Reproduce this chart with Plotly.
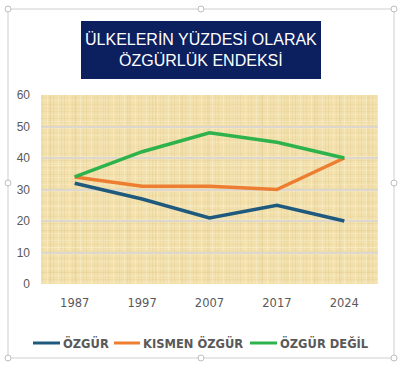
import base64
import plotly.graph_objects as go

# Data
years = ["1987", "1997", "2007", "2017", "2024"]
ozgur = [32, 27, 21, 25, 20]
kismen_ozgur = [34, 31, 31, 30, 40]
ozgur_degil = [34, 42, 48, 45, 40]

series_names = ["ÖZGÜR", "KISMEN ÖZGÜR", "ÖZGÜR DEĞİL"]
series_colors = ["#1f5a7e", "#ed7d31", "#2db24c"]
y_ticks = [0, 10, 20, 30, 40, 50, 60]

W, H = 405, 368
L, R, T, B = 41, 378, 95, 284  # plot area edges in pixels


def px_x(p):
    return (p - L) / (R - L)


def px_y(p):
    return (B - p) / (B - T)


# Papyrus-like woven texture for the plot background (tiled SVG pattern)
svg = f"""<svg xmlns='http://www.w3.org/2000/svg' width='{R-L}' height='{B-T}'>
<defs>
<pattern id='w' width='11' height='7' patternUnits='userSpaceOnUse'>
<rect width='11' height='7' fill='#f3e1ad'/>
<rect x='1' width='1' height='7' fill='#e2c88b' opacity='0.35'/>
<rect x='6' width='1' height='7' fill='#faeecb' opacity='0.6'/>
<rect x='9' width='1' height='7' fill='#dcc283' opacity='0.22'/>
<rect y='2' width='11' height='1' fill='#e3ca8e' opacity='0.28'/>
<rect y='5' width='11' height='1' fill='#f8eac3' opacity='0.5'/>
</pattern>
<pattern id='v' width='53' height='189' patternUnits='userSpaceOnUse'>
<rect x='8' width='2' height='189' fill='#cdb072' opacity='0.12'/>
<rect x='33' width='3' height='189' fill='#cdb072' opacity='0.09'/>
</pattern>
<pattern id='h' width='337' height='41' patternUnits='userSpaceOnUse'>
<rect y='12' width='337' height='2' fill='#cdb072' opacity='0.08'/>
<rect y='29' width='337' height='1' fill='#fbf0cf' opacity='0.35'/>
</pattern>
</defs>
<rect width='100%' height='100%' fill='url(#w)'/>
<rect width='100%' height='100%' fill='url(#v)'/>
<rect width='100%' height='100%' fill='url(#h)'/>
</svg>"""
texture = "data:image/svg+xml;base64," + base64.b64encode(svg.encode()).decode()

fig = go.Figure()
for name, vals, col in zip(series_names, [ozgur, kismen_ozgur, ozgur_degil], series_colors):
    fig.add_trace(go.Scatter(
        x=years, y=vals, name=name, mode="lines",
        line=dict(color=col, width=3.5),
        hoverinfo="x+y+name",
    ))

shapes = []
annotations = []

# Outer frame with selection handles
shapes.append(dict(type="rect", xref="paper", yref="paper",
                   x0=px_x(8), x1=px_x(394), y0=px_y(358), y1=px_y(9),
                   line=dict(color="#cfcfcf", width=1), fillcolor="rgba(0,0,0,0)", layer="below"))
for xx in [8, 201, 394]:
    for yy in [9, 183, 358]:
        if xx == 201 and yy == 183:
            continue
        shapes.append(dict(type="circle", xref="paper", yref="paper",
                           x0=px_x(xx - 3), x1=px_x(xx + 3), y0=px_y(yy + 3), y1=px_y(yy - 3),
                           line=dict(color="#bdbdbd", width=1), fillcolor="white"))

# Title box
shapes.append(dict(type="rect", xref="paper", yref="paper",
                   x0=px_x(81), x1=px_x(321), y0=px_y(79), y1=px_y(21),
                   line=dict(width=0), fillcolor="#0c1f5e"))
annotations.append(dict(text="ÜLKELERİN YÜZDESİ OLARAK<br>ÖZGÜRLÜK ENDEKSİ",
                        xref="paper", yref="paper", x=px_x(201), y=px_y(50),
                        xanchor="center", yanchor="middle", showarrow=False,
                        font=dict(family="Liberation Sans", size=16, color="white")))

# Legend row: short line sample followed by a bold label
legend_y = px_y(343)
legend_lines = [(33, 60), (114, 140), (250, 277)]
for name, col, (lx0, lx1) in zip(series_names, series_colors, legend_lines):
    shapes.append(dict(type="line", xref="paper", yref="paper",
                       x0=px_x(lx0), x1=px_x(lx1), y0=legend_y, y1=legend_y,
                       line=dict(color=col, width=3)))
    annotations.append(dict(text=name, xref="paper", yref="paper",
                            x=px_x(lx1 + 1), y=legend_y, xanchor="left", yanchor="middle",
                            showarrow=False,
                            font=dict(family="DejaVu Sans", size=11.5, color="#595959",
                                      weight="bold")))

fig.update_layout(
    width=W, height=H,
    margin=dict(l=L, r=W - R, t=T, b=H - B),
    paper_bgcolor="white",
    plot_bgcolor="#f3e1ad",
    showlegend=False,
    shapes=shapes,
    annotations=annotations,
    images=[dict(source=texture, xref="paper", yref="paper", x=0, y=1, sizex=1, sizey=1,
                 xanchor="left", yanchor="top", sizing="stretch", layer="below")],
    xaxis=dict(type="category", range=[-0.5, len(years) - 0.5], showgrid=False, zeroline=False,
               showline=False, ticks="",
               tickfont=dict(family="DejaVu Sans", size=11.5, color="#595959"),
               ticklabelstandoff=10, fixedrange=True),
    yaxis=dict(range=[0, 60], tickvals=y_ticks, showgrid=True, gridcolor="#dcd8cf", gridwidth=1.5,
               zeroline=False, showline=False, ticks="",
               tickfont=dict(family="Liberation Sans", size=12, color="#595959"),
               ticklabelstandoff=10, fixedrange=True),
)

fig.write_html("out.html")
